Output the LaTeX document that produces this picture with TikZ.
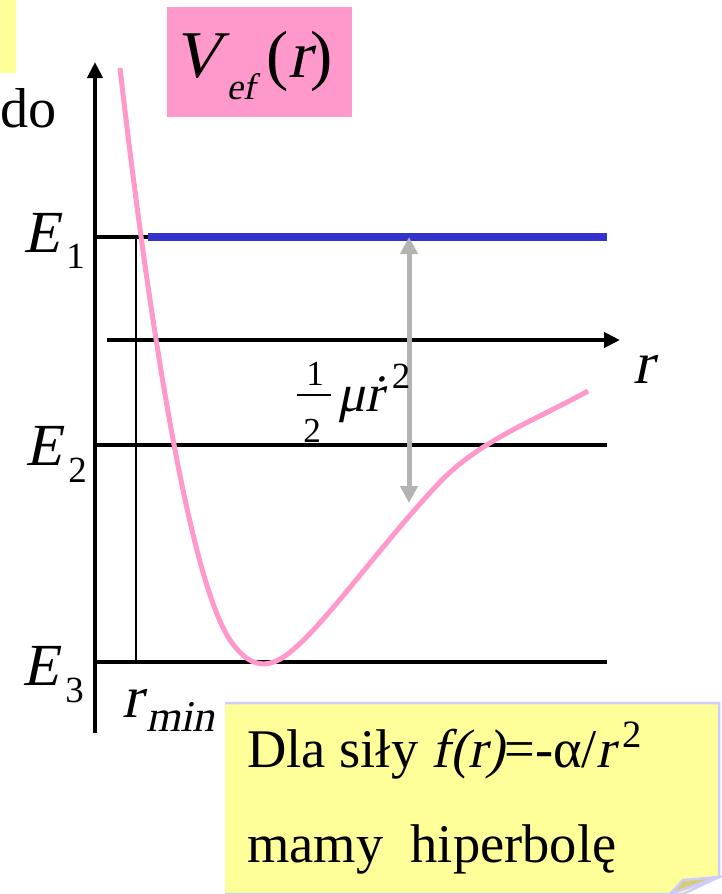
\documentclass[tikz,border=0pt]{standalone}
\usepackage{fontspec}
\setmainfont{Liberation Serif}[ItalicFont={Liberation Serif}, ItalicFeatures={FakeSlant=0.21}]
\usepackage{tikz}
\usetikzlibrary{arrows.meta}
\definecolor{potcolor}{RGB}{255,153,204}
\definecolor{levelcolor}{RGB}{51,51,204}
\definecolor{notecolor}{RGB}{255,255,153}
\definecolor{noteborder}{RGB}{204,204,255}
\definecolor{foldcolor}{RGB}{214,204,120}
\definecolor{kincolor}{RGB}{179,179,179}
\tikzset{
  axis line/.style={
    line width=0.08cm,
    -{Triangle[length=0.32cm,width=0.3cm]}
  },
  level line/.style={
    line width=0.08cm
  },
  label text/.style={
    inner sep=0pt,
    anchor=base west,
    font=\fontsize{34}{40}\selectfont
  },
  note text/.style={
    inner sep=0pt,
    anchor=base west,
    font=\fontsize{31}{36}\selectfont
  },
  kin arrow/.style={
    line width=0.1cm,
    draw=kincolor,
    {Triangle[length=0.34cm,width=0.34cm]}-{Triangle[length=0.34cm,width=0.34cm]}
  }
}
\newcommand{\subsc}[2]{\kern0.13cm{\fontsize{21}{24}\selectfont\raisebox{#1}{#2}}}

\begin{document}
\begin{tikzpicture}[x=0.02cm, y=-0.02cm]
  \useasboundingbox (0,0) rectangle (722,894);

  % Cut-off boxes at the top
  \fill[notecolor] (0,0) rectangle (16,73);
  \node[note text, font=\fontsize{32}{36}\selectfont] (do) at (0,127) {do};
  \fill[potcolor] (167,7) rectangle (352,117);
  \node[label text] (Vef) at (173,77)
    {\fontsize{38}{44}\selectfont\textit{V}\kern0.1cm{\fontsize{21}{24}\selectfont\raisebox{-0.45cm}{\textit{ef}}}\,(\textit{r})};

  % Axes
  \coordinate (origin) at (95,733);
  \coordinate (vtop) at (95,62);
  \coordinate (rstart) at (107,340);
  \coordinate (rend) at (620,340);
  \draw[axis line] (origin) -- (vtop);
  \draw[axis line] (rstart) -- (rend);
  \node[label text] (rlabel) at (633,383) {\textit{r}};

  % Energy levels
  \coordinate (E1a) at (95,237);
  \coordinate (E1b) at (148,237);
  \coordinate (E1c) at (607,237);
  \coordinate (E2a) at (95,445);
  \coordinate (E2b) at (607,445);
  \coordinate (E3a) at (95,662);
  \coordinate (E3b) at (607,662);
  \draw[level line] (E1a) -- (E1b);
  \draw[line width=0.16cm, levelcolor] (E1b) -- (E1c);
  \draw[level line] (E2a) -- (E2b);
  \draw[level line] (E3a) -- (E3b);
  \node[label text] (E1) at (23,252) {\textit{E}\subsc{-0.32cm}{1}};
  \node[label text] (E2) at (25,465) {\textit{E}\subsc{-0.34cm}{2}};
  \node[label text] (E3) at (22,685) {\textit{E}\subsc{-0.34cm}{3}};

  % Turning point
  \coordinate (rminTop) at (136,237);
  \coordinate (rminBot) at (136,662);
  \draw[line width=0.03cm] (rminTop) -- (rminBot);
  \node[label text] (rmin) at (122,717)
    {\textit{r}\kern0.08cm{\fontsize{25}{28}\selectfont\raisebox{-0.28cm}{\textit{min}}}};

  % Effective potential
  \draw[potcolor, line width=0.1cm] (120,68)
    .. controls (150,330) and (190,580) .. (230,640)
    .. controls (245,662) and (262,672) .. (285,656)
    .. controls (320,632) and (380,545) .. (440,482)
    .. controls (480,440) and (540,418) .. (588,391);

  % Kinetic energy
  \coordinate (kinTop) at (409,237);
  \coordinate (kinBot) at (409,503);
  \draw[kin arrow] (kinBot) -- (kinTop);
  \node[label text, font=\fontsize{20}{24}\selectfont] (one) at (306,385) {1};
  \node[label text, font=\fontsize{20}{24}\selectfont] (two) at (303,442) {2};
  \coordinate (barL) at (297,395);
  \coordinate (barR) at (331,395);
  \draw[line width=0.035cm] (barL) -- (barR);
  \node[label text, font=\fontsize{30}{34}\selectfont] (mu) at (337,411)
    {\textit{μ\.{r}}\,{\fontsize{21}{24}\selectfont\raisebox{0.45cm}{2}}};

  % Note
  \fill[notecolor, draw=noteborder, line width=0.05cm]
    (225,703) -- (719,703) -- (719,877) -- (683,894) -- (225,894);
  \fill[foldcolor, draw=noteborder, line width=0.05cm]
    (683,880) -- (719,877) -- (670,894) -- cycle;
  \node[note text] (line1) at (247,767)
    {Dla siły \textit{f(r)}=-α/\textit{r}\kern0.15cm\raisebox{0.4cm}{\fontsize{22}{26}\selectfont 2}};
  \node[note text] (line2) at (247,862) {mamy\ \ hiperbolę};

\end{tikzpicture}
\end{document}
